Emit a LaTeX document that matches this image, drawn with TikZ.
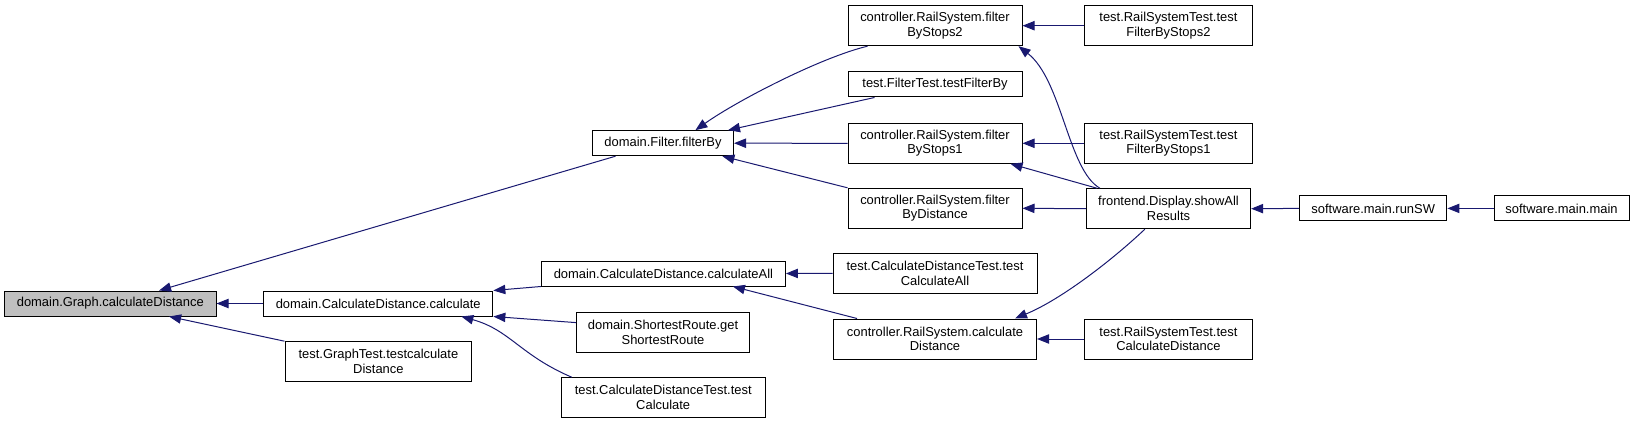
\documentclass[tikz,border=0pt]{standalone}
\usepackage{fontspec}
\setmainfont{Liberation Sans}
\usetikzlibrary{arrows.meta,calc}
\definecolor{edgeblue}{HTML}{191970}
\definecolor{nodegray}{HTML}{BFBFBF}
\begin{document}
\begin{tikzpicture}[x=0.75pt,y=-0.75pt,
  box/.style={draw=black,line width=0.75pt,fill=white,inner sep=0pt,align=center,font=\fontsize{9.7}{11}\selectfont},
  one/.style={minimum height=18.75pt},
  two/.style={minimum height=30pt},
  edge/.style={draw=edgeblue,line width=0.75pt,-{Triangle[length=9pt,width=7pt]}}]
\useasboundingbox (0,0) rectangle (1635,424);
% rank 0
\node[box,one,fill=nodegray,minimum width=158.55pt] (G) at (110.3,303.5) {domain.Graph.calculateDistance};
% rank 1
\node[box,one,minimum width=172pt] (calc) at (378.2,303.5) {domain.CalculateDistance.calculate};
\node[box,two,minimum width=140.1pt] (gt) at (378.4,361.7) {test.GraphTest.testcalculate\\Distance};
% rank 2
\node[box,one,minimum width=105.75pt] (fb) at (663,143.2) {domain.Filter.filterBy};
\node[box,one,minimum width=183pt] (ca) at (663.4,273.5) {domain.CalculateDistance.calculateAll};
\node[box,two,minimum width=129.75pt] (sr) at (663,332.5) {domain.ShortestRoute.get\\ShortestRoute};
\node[box,two,minimum width=153pt] (tc) at (663.2,397.7) {test.CalculateDistanceTest.test\\Calculate};
% rank 3
\node[box,two,minimum width=130.5pt] (fs2) at (935,25.7) {controller.RailSystem.filter\\ByStops2};
\node[box,one,minimum width=130.5pt] (tfb) at (935,84.5) {test.FilterTest.testFilterBy};
\node[box,two,minimum width=130.5pt] (fs1) at (935,143.3) {controller.RailSystem.filter\\ByStops1};
\node[box,two,minimum width=130.5pt] (fd) at (935,208.3) {controller.RailSystem.filter\\ByDistance};
\node[box,two,minimum width=153pt] (tca) at (935,273.3) {test.CalculateDistanceTest.test\\CalculateAll};
\node[box,two,minimum width=152.25pt] (rcd) at (935,339) {controller.RailSystem.calculate\\Distance};
% rank 4
\node[box,two,minimum width=125.7pt] (rt2) at (1168.4,25.7) {test.RailSystemTest.test\\FilterByStops2};
\node[box,two,minimum width=125.7pt] (rt1) at (1168.4,143.3) {test.RailSystemTest.test\\FilterByStops1};
\node[box,two,minimum width=123.2pt] (sa) at (1168.5,208.7) {frontend.Display.showAll\\Results};
\node[box,two,minimum width=125.7pt] (rtcd) at (1168.4,339) {test.RailSystemTest.test\\CalculateDistance};
% rank 5, 6
\node[box,one,minimum width=110.55pt] (rsw) at (1373.2,208.4) {software.main.runSW};
\node[box,one,minimum width=101.25pt] (mm) at (1561.5,208.4) {software.main.main};
% edges
\draw[edge] ($(fb.south west)+(23.5,0)$) -- ($(G.north west)+(155,0)$);
\draw[edge] (calc.west) -- (G.east);
\draw[edge] (gt.north west) -- ($(G.south west)+(165,0)$);
\draw[edge] (ca.south west) -- (calc.north east);
\draw[edge] ($(sr.north west)+(0,10.6)$) -- (calc.south east);
\draw[edge] ($(tc.north west)+(11,0)$) .. controls (520,355) and (510,330) .. ($(calc.south east)+(-32,0)$);
\draw[edge] ($(fs2.south west)+(20,0)$) .. controls (822,57) and (738,100) .. ($(fb.north east)+(-38.6,0)$);
\draw[edge] ($(tfb.south west)+(27,0)$) -- ($(fb.north east)+(-6,0)$);
\draw[edge] (fs1.west) -- (fb.east);
\draw[edge] (fd.north west) -- ($(fb.south east)+(-11.6,0)$);
\draw[edge] (tca.west) -- (ca.east);
\draw[edge] ($(rcd.north west)+(24,0)$) -- ($(ca.south east)+(-53,0)$);
\draw[edge] (rt2.west) -- (fs2.east);
\draw[edge] ($(sa.north west)+(14,0)$) .. controls (1068,170) and (1062,80) .. ($(fs2.south east)+(-4,0)$);
\draw[edge] (rt1.west) -- (fs1.east);
\draw[edge] ($(sa.north west)+(11,0)$) -- ($(fs1.south east)+(-12,0)$);
\draw[edge] (sa.west) -- (fd.east);
\draw[edge] ($(sa.south west)+(59,0)$) .. controls (1110,262) and (1060,300) .. ($(rcd.north east)+(-22,0)$);
\draw[edge] (rtcd.west) -- (rcd.east);
\draw[edge] (rsw.west) -- (sa.east);
\draw[edge] (mm.west) -- (rsw.east);
\end{tikzpicture}
\end{document}
